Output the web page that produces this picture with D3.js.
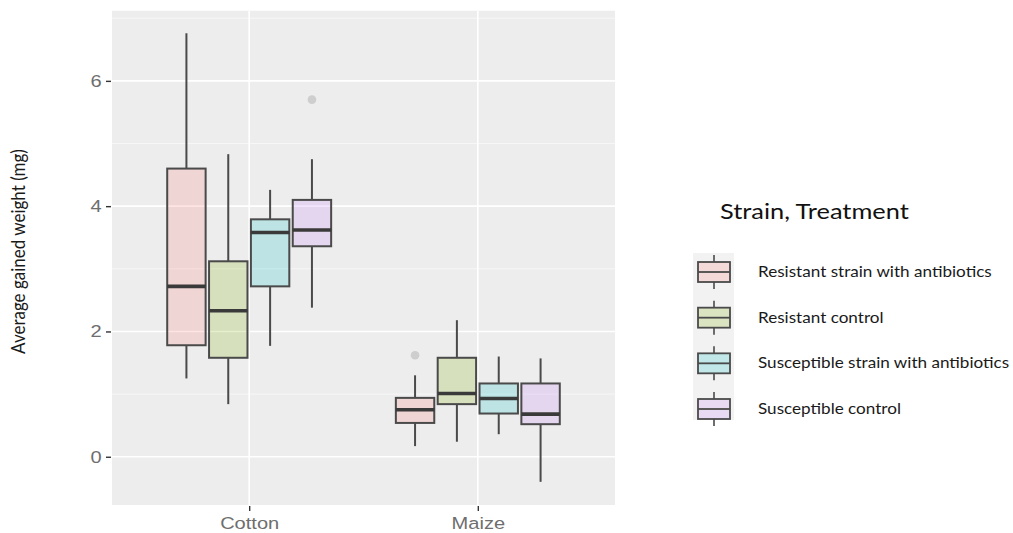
<!DOCTYPE html>
<html>
<head>
<meta charset="utf-8">
<script src="https://cdn.jsdelivr.net/npm/d3@7"></script>
<style>
  html, body { margin: 0; padding: 0; background: #ffffff; }
  svg { display: block; }
</style>
</head>
<body>
<svg id="chart" width="1013" height="533"></svg>
<script>
// Host plants on the x axis
const hosts = ["Cotton", "Maize"];
// Strain / treatment groups (dodged within each host)
const groups = [
  "Resistant strain with antibiotics",
  "Resistant control",
  "Susceptible strain with antibiotics",
  "Susceptible control"
];
const groupColors = ["#F8766D", "#7CAE00", "#00BFC4", "#C77CFF"];

// Box statistics per host (rows) and group (columns), in mg
const whiskerLow = [[1.25, 0.84, 1.77, 2.38], [0.17, 0.24, 0.36, -0.40]];
const lowerQuartile = [[1.78, 1.58, 2.72, 3.36], [0.54, 0.84, 0.69, 0.52]];
const medianValue = [[2.72, 2.33, 3.58, 3.62], [0.75, 1.01, 0.93, 0.68]];
const upperQuartile = [[4.60, 3.12, 3.79, 4.10], [0.94, 1.58, 1.17, 1.17]];
const whiskerHigh = [[6.76, 4.83, 4.26, 4.75], [1.30, 2.18, 1.60, 1.57]];

// Outlying points
const outlierHost = ["Cotton", "Maize"];
const outlierGroup = ["Susceptible control", "Resistant strain with antibiotics"];
const outlierValue = [5.70, 1.62];

const yTicks = [0, 2, 4, 6];
const yMinorTicks = [1, 3, 5, 7];

const svg = d3.select("#chart");

const panel = { left: 112, right: 615, top: 10.7, bottom: 505 };
const textStretch = 1.18; // horizontal widening applied to the text

// Discrete axis laid out on a continuous index scale (hosts at 1, 2)
const x = d3.scaleLinear().domain([0.4, hosts.length + 0.6]).range([panel.left, panel.right]);
const y = d3.scaleLinear().domain([-0.77, 7.12]).range([panel.bottom, panel.top]);

const slot = 0.183;      // dodge spacing between groups, in index units
const boxWidth = 0.168;  // box width, in index units

const color = d3.scaleOrdinal().domain(groups).range(groupColors);

function groupCenter(hostIndex, groupIndex) {
  return x(hostIndex + 1 + (groupIndex - (groups.length - 1) / 2) * slot);
}

// Panel background
svg.append("rect")
  .attr("x", panel.left).attr("y", panel.top)
  .attr("width", panel.right - panel.left)
  .attr("height", panel.bottom - panel.top)
  .attr("fill", "#EDEDED");

// Grid lines
const grid = svg.append("g");
grid.selectAll("line.minor").data(yMinorTicks).join("line")
  .attr("class", "minor")
  .attr("x1", panel.left).attr("x2", panel.right)
  .attr("y1", d => y(d)).attr("y2", d => y(d))
  .attr("stroke", "#F8F8F8").attr("stroke-width", 0.9);
grid.selectAll("line.major").data(yTicks).join("line")
  .attr("class", "major")
  .attr("x1", panel.left).attr("x2", panel.right)
  .attr("y1", d => y(d)).attr("y2", d => y(d))
  .attr("stroke", "#FFFFFF").attr("stroke-width", 1.6);
grid.selectAll("line.vmajor").data(hosts).join("line")
  .attr("class", "vmajor")
  .attr("x1", (d, i) => x(i + 1)).attr("x2", (d, i) => x(i + 1))
  .attr("y1", panel.top).attr("y2", panel.bottom)
  .attr("stroke", "#FFFFFF").attr("stroke-width", 1.6);

// Box plots
const boxes = [];
hosts.forEach((h, hi) => {
  groups.forEach((g, gi) => {
    boxes.push({
      host: h, group: g, hi, gi,
      lo: whiskerLow[hi][gi], q1: lowerQuartile[hi][gi], med: medianValue[hi][gi],
      q3: upperQuartile[hi][gi], hi_: whiskerHigh[hi][gi]
    });
  });
});

const bw = x(boxWidth) - x(0);
const boxG = svg.append("g").selectAll("g").data(boxes).join("g")
  .attr("transform", d => `translate(${groupCenter(d.hi, d.gi)},0)`);

const lineColor = "#4A4A4A";
boxG.append("line")
  .attr("x1", 0).attr("x2", 0)
  .attr("y1", d => y(d.q3)).attr("y2", d => y(d.hi_))
  .attr("stroke", lineColor).attr("stroke-width", 2);
boxG.append("line")
  .attr("x1", 0).attr("x2", 0)
  .attr("y1", d => y(d.q1)).attr("y2", d => y(d.lo))
  .attr("stroke", lineColor).attr("stroke-width", 2);
boxG.append("rect")
  .attr("x", -bw / 2).attr("width", bw)
  .attr("y", d => y(d.q3)).attr("height", d => y(d.q1) - y(d.q3))
  .attr("fill", d => color(d.group)).attr("fill-opacity", 0.2)
  .attr("stroke", lineColor).attr("stroke-width", 2);
boxG.append("line")
  .attr("x1", -bw / 2).attr("x2", bw / 2)
  .attr("y1", d => y(d.med)).attr("y2", d => y(d.med))
  .attr("stroke", "#3A3A3A").attr("stroke-width", 3.6);

// Outliers
svg.append("g").selectAll("circle").data(outlierValue).join("circle")
  .attr("cx", (v, i) => groupCenter(hosts.indexOf(outlierHost[i]), groups.indexOf(outlierGroup[i])))
  .attr("cy", v => y(v))
  .attr("r", 4.3)
  .attr("fill", "#C8C8C8").attr("fill-opacity", 0.85);

// Y axis
const yAxis = d3.axisLeft(y).tickValues(yTicks).tickSize(5).tickPadding(3).tickFormat(d3.format("d"));
const yG = svg.append("g").attr("transform", `translate(${panel.left - 1},0)`).call(yAxis);
yG.select(".domain").remove();
yG.selectAll(".tick line").attr("stroke", "#333333").attr("stroke-width", 1.4);
yG.selectAll(".tick text")
  .attr("fill", "#6E6E6E")
  .attr("transform", `scale(${textStretch},1)`)
  .style("font-family", "'Liberation Sans', Arial, sans-serif")
  .style("font-size", "17px");

// X axis
const xAxis = d3.axisBottom(x).tickValues(hosts.map((h, i) => i + 1))
  .tickFormat((d) => hosts[d - 1]).tickSize(5).tickPadding(6);
const xG = svg.append("g").attr("transform", `translate(0,${panel.bottom + 1})`).call(xAxis);
xG.select(".domain").remove();
xG.selectAll(".tick line").attr("stroke", "#333333").attr("stroke-width", 1.4);
xG.selectAll(".tick text")
  .attr("fill", "#6E6E6E")
  .attr("transform", `scale(${textStretch},1)`)
  .style("font-family", "'Liberation Sans', Arial, sans-serif")
  .style("font-size", "17px");

// Y axis title
svg.append("text")
  .attr("transform", `translate(25,${(145 + 358) / 2}) rotate(-90) scale(1,${textStretch})`)
  .attr("text-anchor", "middle")
  .attr("fill", "#1A1A1A")
  .style("font-family", "Lato, 'Open Sans', sans-serif")
  .style("font-size", "17px")
  .text("Average gained weight (mg)");

// Legend
const legend = svg.append("g");
legend.append("text")
  .attr("transform", `translate(720,219) scale(${textStretch},1)`)
  .attr("fill", "#111111")
  .style("font-family", "Lato, 'Open Sans', sans-serif")
  .style("font-size", "21.5px")
  .text("Strain, Treatment");

const keyCenters = d3.scalePoint().domain(groups).range([272, 409]);
legend.append("rect")
  .attr("x", 693).attr("y", 253)
  .attr("width", 41).attr("height", 167)
  .attr("fill", "#F2F2F2");

const keyX = 714;
const keys = legend.selectAll("g.key").data(groups).join("g")
  .attr("class", "key")
  .attr("transform", d => `translate(${keyX},${keyCenters(d)})`);
keys.append("line")
  .attr("x1", 0).attr("x2", 0).attr("y1", -17).attr("y2", 17)
  .attr("stroke", lineColor).attr("stroke-width", 1.6);
keys.append("rect")
  .attr("x", -16).attr("y", -10).attr("width", 32).attr("height", 20)
  .attr("fill", "#F2F2F2");
keys.append("rect")
  .attr("x", -16).attr("y", -10).attr("width", 32).attr("height", 20)
  .attr("fill", d => color(d)).attr("fill-opacity", 0.2)
  .attr("stroke", lineColor).attr("stroke-width", 1.8);
keys.append("line")
  .attr("x1", -16).attr("x2", 16).attr("y1", 0).attr("y2", 0)
  .attr("stroke", lineColor).attr("stroke-width", 1.8);
keys.append("text")
  .attr("transform", `translate(${758 - keyX},5) scale(${textStretch},1)`)
  .attr("fill", "#1A1A1A")
  .style("font-family", "Lato, 'Open Sans', sans-serif")
  .style("font-size", "14.5px")
  .text(d => d);
</script>
</body>
</html>
